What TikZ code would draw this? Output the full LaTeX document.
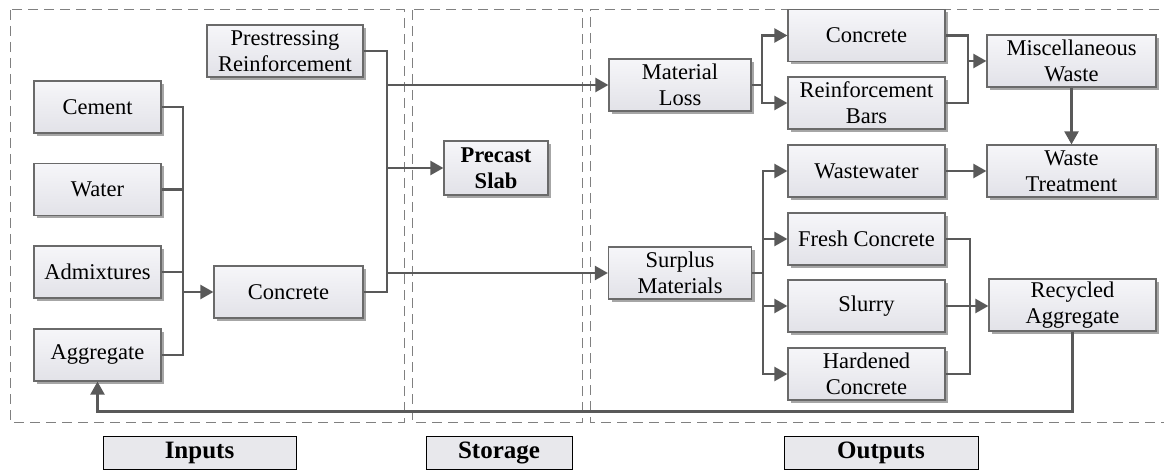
\documentclass[tikz,border=0pt]{standalone}
\usepackage{fontspec}
\setmainfont{Liberation Serif}
\usetikzlibrary{arrows.meta,shadows,calc}
\definecolor{boxtop}{HTML}{F6F6F9}
\definecolor{boxbot}{HTML}{E2E2E8}
\definecolor{boxdraw}{HTML}{6A6A6A}
\definecolor{shadowc}{HTML}{A6A6A6}
\definecolor{linec}{HTML}{595959}
\definecolor{dashc}{HTML}{808080}
\definecolor{lblfill}{HTML}{E8E8EC}
\tikzset{
  bx/.style={draw=boxdraw, line width=1.2pt, top color=boxtop, bottom color=boxbot,
    minimum height=52pt, inner sep=0pt, align=center,
    font=\fontsize{22.5}{26}\selectfont,
    drop shadow={shadow xshift=3pt, shadow yshift=-3pt, fill=shadowc, opacity=1}},
  lbl/.style={draw=black, line width=1pt, fill=lblfill, minimum height=33pt,
    inner sep=0pt, font=\fontsize{25}{28}\selectfont\bfseries},
  ln/.style={draw=linec, line width=2.3pt},
  arr/.style={ln, -{Triangle[length=13pt,width=14pt]}},
  dsh/.style={draw=dashc, line width=1pt, dash pattern=on 10pt off 6pt}
}
\begin{document}
\begin{tikzpicture}[x=1pt,y=1pt]
\useasboundingbox (0,0) rectangle (1164,-470);
% regions
\draw[dsh] (10,-10) rectangle (404,-422);
\draw[dsh] (412,-10) rectangle (582,-422);
\draw[dsh] (1175,-10) -- (590,-10) -- (590,-422) -- (1175,-422);
% nodes
\node[bx, minimum width=156pt] (pres) at (285,-51) {Prestressing\\Reinforcement};
\node[bx, minimum width=127pt] (cement) at (97.5,-107) {Cement};
\node[bx, minimum width=127pt] (water) at (97.5,-189.5) {Water};
\node[bx, minimum width=127pt] (admix) at (97.5,-272) {Admixtures};
\node[bx, minimum width=127pt] (aggr) at (97.5,-355) {Aggregate};
\node[bx, minimum width=149pt] (conc) at (288.5,-292) {Concrete};
\node[bx, minimum width=104pt, minimum height=54pt, font=\fontsize{22.5}{26}\selectfont\bfseries] (precast) at (496,-168) {Precast\\Slab};
\node[bx, minimum width=142pt] (matloss) at (680,-85) {Material\\Loss};
\node[bx, minimum width=143pt] (surplus) at (680,-273) {Surplus\\Materials};
\node[bx, minimum width=157pt] (ctop) at (866.5,-35.5) {Concrete};
\node[bx, minimum width=157pt] (reb) at (866.5,-103) {Reinforcement\\Bars};
\node[bx, minimum width=157pt] (ww) at (866.5,-171) {Wastewater};
\node[bx, minimum width=157pt] (fresh) at (866.5,-239) {Fresh Concrete};
\node[bx, minimum width=157pt] (slurry) at (866.5,-306) {Slurry};
\node[bx, minimum width=157pt] (hard) at (866.5,-374) {Hardened\\Concrete};
\node[bx, minimum width=169pt] (misc) at (1071.5,-61) {Miscellaneous\\Waste};
\node[bx, minimum width=169pt] (wt) at (1071.5,-171) {Waste\\Treatment};
\node[bx, minimum width=167pt] (recyc) at (1072.5,-305) {Recycled\\Aggregate};
% labels
\node[lbl, minimum width=193pt] (linp) at (199.5,-452.5) {Inputs};
\node[lbl, minimum width=146pt] (lsto) at (499,-452.5) {Storage};
\node[lbl, minimum width=194pt] (lout) at (881,-452.5) {Outputs};
% junction coordinates
\coordinate (j1) at (183,-292);
\coordinate (b1) at (387,-51);
\coordinate (b2) at (387,-292);
\coordinate (m1) at (762,0);
\coordinate (m2) at (968,0);
\coordinate (s1) at (763,0);
\coordinate (r1) at (970,0);
% inputs to concrete
\draw[ln] (cement.east) -| (j1);
\draw[ln] (aggr.east) -| (j1);
\draw[ln] (water.east) -- (water.east -| j1);
\draw[ln] (admix.east) -- (admix.east -| j1);
\draw[arr] (j1) -- (conc.west);
% to storage / outputs
\draw[ln] (pres.east) -- (b1) -- (b2) -- (conc.east);
\draw[arr] (matloss.west -| b1) -- (matloss.west);
\draw[arr] (precast.west -| b1) -- (precast.west);
\draw[arr] (surplus.west -| b1) -- (surplus.west);
% material loss branch
\draw[ln] (matloss.east) -- (matloss.east -| m1);
\draw[arr] (matloss.east -| m1) |- (ctop.west);
\draw[arr] (matloss.east -| m1) |- (reb.west);
\draw[ln] (ctop.east) -| (misc.west -| m2);
\draw[ln] (reb.east) -| (misc.west -| m2);
\draw[arr] (misc.west -| m2) -- (misc.west);
\draw[arr] (misc.south) -- (wt.north);
\draw[arr] (ww.east) -- (wt.west);
% surplus branch
\draw[ln] (surplus.east) -- (surplus.east -| s1);
\draw[arr] (surplus.east -| s1) |- (ww.west);
\draw[arr] (surplus.east -| s1) |- (fresh.west);
\draw[arr] (surplus.east -| s1) |- (slurry.west);
\draw[arr] (surplus.east -| s1) |- (hard.west);
\draw[ln] (fresh.east) -| (slurry.east -| r1);
\draw[ln] (hard.east) -| (slurry.east -| r1);
\draw[arr] (slurry.east) -- (recyc.west |- slurry.east);
% feedback
\draw[arr] (recyc.south) |- ($(aggr.south)+(0,-30)$) -- (aggr.south);
\end{tikzpicture}
\end{document}
